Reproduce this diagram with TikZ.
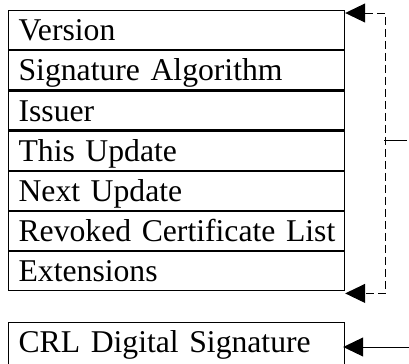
\documentclass[tikz,border=0pt]{standalone}
\usepackage{fontspec}
\setmainfont{Liberation Serif}[WordSpace=0.8]
\usetikzlibrary{positioning}
\usetikzlibrary{arrows.meta}

\begin{document}
\begin{tikzpicture}[x=1bp,y=-1bp,node distance=0bp,
        field/.style={rectangle, draw=black, line width=1.2bp, anchor=north west,
            text width=316bp, align=left, inner xsep=10bp, inner ysep=0bp,
            text height=30bp, text depth=9bp, minimum height=39bp},
        sigbox/.style={field, text depth=14bp, minimum height=44bp},
        arr/.style={line width=1bp, -{Triangle[length=20bp,width=19bp]}},
        brk/.style={line width=1bp, dash pattern=on 8bp off 4bp,
            {Triangle[length=20bp,width=19bp]}-{Triangle[length=20bp,width=19bp]}}
        ]
        \useasboundingbox (0,0) rectangle (409,364);
        \fontsize{31.8}{36}\selectfont
        \node (ver) [field] at (8,10) {Version};
        \node (alg) [field, below=of ver] {Signature Algorithm};
        \node (iss) [field, below=of alg] {Issuer};
        \node (thu) [field, below=of iss] {This Update};
        \node (nxu) [field, below=of thu] {Next Update};
        \node (rcl) [field, below=of nxu] {\mbox{Revoked Certificate List}};
        \node (ext) [field, below=of rcl] {Extensions};
        \node (sig) [sigbox] at (8,322) {CRL Digital Signature};
        \coordinate (tick) at (384,140);
        \coordinate (sigin) at (409,347);
        \draw[brk] ([yshift=-3bp]ver.north east) -- ++(40bp,0) |- ([yshift=-2bp]ext.south east);
        \draw[line width=1bp] (tick) -- ++(23,0);
        \draw[arr] (sigin) -- ([xshift=-2bp]sig.east |- sigin);
\end{tikzpicture}
\end{document}
